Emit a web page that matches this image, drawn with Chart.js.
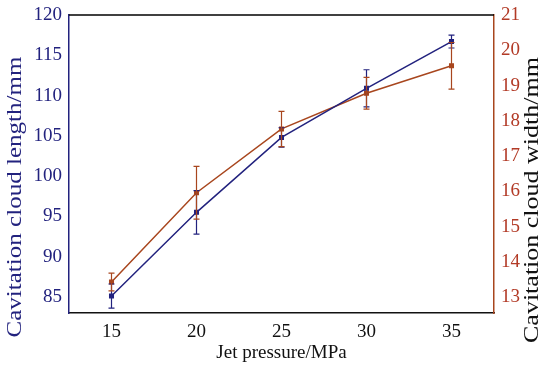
<!DOCTYPE html>
<html lang="en">
<head>
  <meta charset="UTF-8" />
  <title>Cavitation cloud vs jet pressure</title>
  <script src="https://cdn.jsdelivr.net/npm/chart.js"></script>
  <style>
    html, body { margin: 0; padding: 0; background: #fff; }
    #wrap { width: 550px; height: 368px; }
  </style>
</head>
<body>
  <div id="wrap"><canvas id="grafico" width="550" height="368"></canvas></div>

  <script>
    // data
    const pressure = [15, 20, 25, 30, 35];
    const lengthMean = [85.1, 95.5, 104.8, 110.9, 116.7];
    const lengthErr = [1.5, 2.7, 1.2, 2.3, 0.8];
    const widthMean = [13.43, 15.96, 17.77, 18.78, 19.56];
    const widthErr = [0.25, 0.75, 0.5, 0.45, 0.66];
    const xTicks = [15, 20, 25, 30, 35];
    const lengthTicks = [85, 90, 95, 100, 105, 110, 115, 120];
    const widthTicks = [13, 14, 15, 16, 17, 18, 19, 20, 21];

    const navy = '#22227e';
    const brown = '#a8461e';
    const serif = "'Liberation Serif', 'DejaVu Serif', serif";

    // draws a vertical title reading bottom-to-top, stretched to a given length
    function sideTitle(ctx, text, cx, cy, len, color) {
      ctx.save();
      ctx.font = '20px ' + serif;
      ctx.fillStyle = color;
      ctx.textAlign = 'center';
      ctx.textBaseline = 'middle';
      const w = ctx.measureText(text).width;
      ctx.translate(cx, cy);
      ctx.rotate(-Math.PI / 2);
      ctx.scale(len / w, 1);
      ctx.fillText(text, 0, 0);
      ctx.restore();
    }

    // error bars, drawn through the chart scales
    const errorBars = {
      id: 'errorBars',
      afterDatasetsDraw(chart) {
        const ctx = chart.ctx;
        const x = chart.scales.x;
        const sets = [
          { mean: lengthMean, err: lengthErr, scale: chart.scales.yL, color: navy },
          { mean: widthMean, err: widthErr, scale: chart.scales.yR, color: brown }
        ];
        ctx.save();
        ctx.lineWidth = 1.2;
        sets.forEach(s => {
          ctx.strokeStyle = s.color;
          pressure.forEach((p, i) => {
            const px = x.getPixelForValue(p);
            const top = s.scale.getPixelForValue(s.mean[i] + s.err[i]);
            const bot = s.scale.getPixelForValue(s.mean[i] - s.err[i]);
            ctx.beginPath();
            ctx.moveTo(px, top); ctx.lineTo(px, bot);
            ctx.moveTo(px - 3, top); ctx.lineTo(px + 3, top);
            ctx.moveTo(px - 3, bot); ctx.lineTo(px + 3, bot);
            ctx.stroke();
          });
        });
        // top frame line
        const a = chart.chartArea;
        ctx.strokeStyle = '#000';
        ctx.lineWidth = 1.5;
        ctx.beginPath();
        ctx.moveTo(a.left, a.top); ctx.lineTo(a.right, a.top);
        ctx.stroke();
        ctx.restore();
      },
      afterDraw(chart) {
        sideTitle(chart.ctx, 'Cavitation cloud length/mm', 16, 197, 281, navy);
        sideTitle(chart.ctx, 'Cavitation cloud width/mm', 533, 200, 286, '#111');
      }
    };

    new Chart(document.getElementById('grafico'), {
      type: 'line',
      data: {
        datasets: [
          {
            label: 'Cavitation cloud length/mm',
            data: pressure.map((p, i) => ({ x: p, y: lengthMean[i] })),
            yAxisID: 'yL',
            borderColor: navy,
            backgroundColor: navy,
            borderWidth: 1.5,
            pointStyle: 'rect',
            pointRadius: 2.5,
            tension: 0
          },
          {
            label: 'Cavitation cloud width/mm',
            data: pressure.map((p, i) => ({ x: p, y: widthMean[i] })),
            yAxisID: 'yR',
            borderColor: brown,
            backgroundColor: brown,
            borderWidth: 1.5,
            pointStyle: 'rect',
            pointRadius: 2.5,
            tension: 0
          }
        ]
      },
      options: {
        responsive: false,
        animation: false,
        layout: { padding: { top: 15, left: 0, right: 0, bottom: 0 } },
        plugins: { legend: { display: false }, tooltip: { enabled: false } },
        scales: {
          x: {
            type: 'linear',
            min: 12.5,
            max: 37.5,
            afterBuildTicks: s => { s.ticks = xTicks.map(v => ({ value: v })); },
            afterFit: s => { s.height = 55; },
            grid: { display: false, drawTicks: true, tickLength: 4, color: '#111' },
            border: { color: '#111', width: 1.5 },
            ticks: { color: '#111', font: { family: serif, size: 19 }, padding: 4, maxRotation: 0 },
            title: { display: true, text: 'Jet pressure/MPa', color: '#111', font: { family: serif, size: 19 }, padding: { top: 0 } }
          },
          yL: {
            position: 'left',
            min: 83,
            max: 120,
            afterBuildTicks: s => { s.ticks = lengthTicks.map(v => ({ value: v })); },
            afterFit: s => { s.width = 69; },
            grid: { display: false, tickLength: 4, color: navy },
            border: { color: navy, width: 1.5 },
            ticks: { color: navy, font: { family: serif, size: 19 }, padding: 3 },
            title: { display: false }
          },
          yR: {
            position: 'right',
            min: 12.55,
            max: 21,
            afterBuildTicks: s => { s.ticks = widthTicks.map(v => ({ value: v })); },
            afterFit: s => { s.width = 56; },
            grid: { display: false, tickLength: 4, color: brown },
            border: { color: brown, width: 1.5 },
            ticks: { color: '#b23a26', font: { family: serif, size: 19 }, padding: 3 },
            title: { display: false }
          }
        }
      },
      plugins: [errorBars]
    });
  </script>
</body>
</html>
